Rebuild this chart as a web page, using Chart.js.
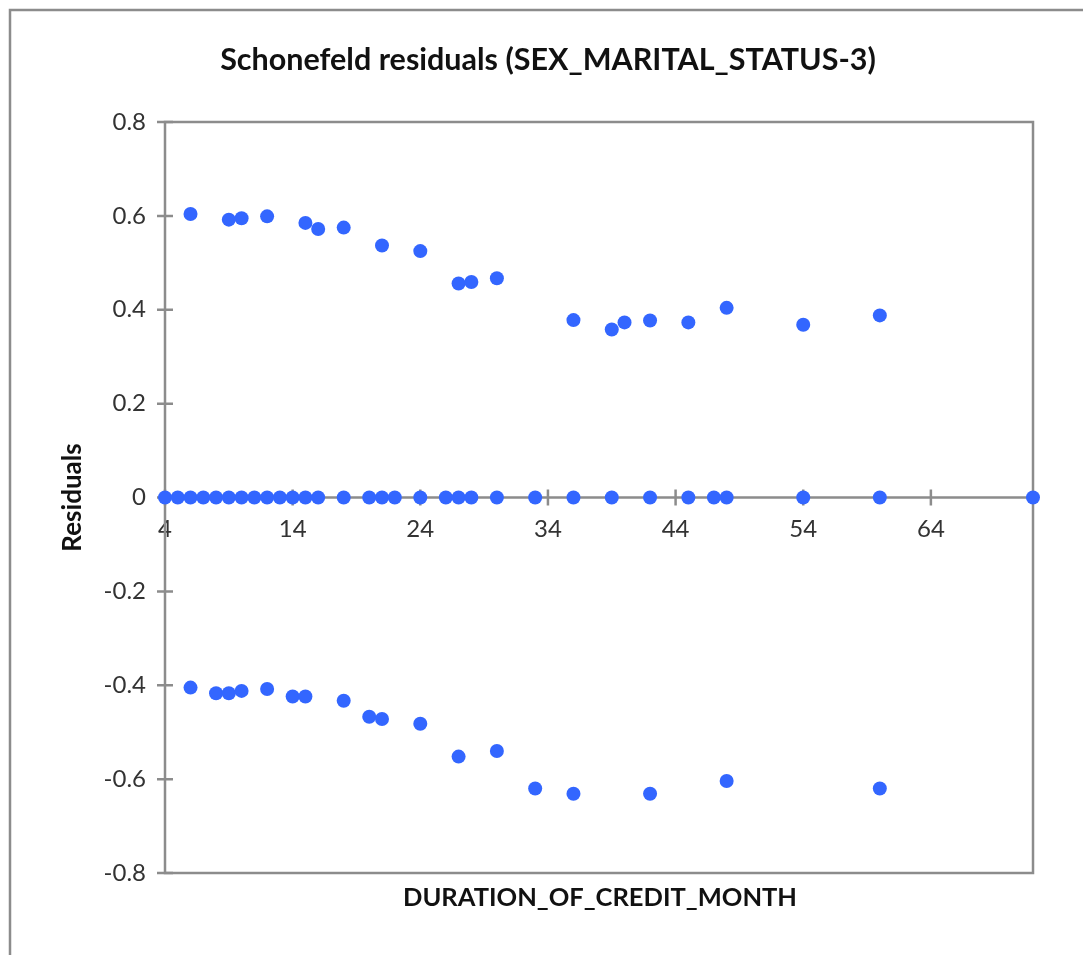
<!DOCTYPE html>
<html>
<head>
<meta charset="utf-8">
<title>Schonefeld residuals</title>
<script src="https://cdn.jsdelivr.net/npm/chart.js@4.4.1/dist/chart.umd.min.js"></script>
<style>
    html, body { margin: 0; padding: 0; background: #fff; }
    #wrap { width: 1083px; height: 955px; }
</style>
</head>
<body>
<div id="wrap"><canvas id="residualChart"></canvas></div>
<script>
// Residuals vs duration
const zeroX = [4, 5, 6, 7, 8, 9, 10, 11, 12, 13, 14, 15, 16, 18, 20, 21, 22, 24, 26, 27, 28, 30, 33, 36, 39, 42, 45, 47, 48, 54, 60, 72];
const zeroY = zeroX.map(() => 0);

const posX = [6, 9, 10, 12, 15, 16, 18, 21, 24, 27, 28, 30, 36, 39, 40, 42, 45, 48, 54, 60];
const posY = [0.604, 0.592, 0.595, 0.599, 0.585, 0.572, 0.575, 0.537, 0.525, 0.456, 0.459, 0.467, 0.378, 0.358, 0.373, 0.377, 0.373, 0.404, 0.368, 0.388];

const negX = [6, 8, 9, 10, 12, 14, 15, 18, 20, 21, 24, 27, 30, 33, 36, 42, 48, 60];
const negY = [-0.405, -0.417, -0.417, -0.412, -0.408, -0.424, -0.424, -0.433, -0.467, -0.472, -0.482, -0.552, -0.540, -0.620, -0.631, -0.631, -0.604, -0.620];

const xTicks = [4, 14, 24, 34, 44, 54, 64];
const yTicks = [-0.8, -0.6, -0.4, -0.2, 0, 0.2, 0.4, 0.6, 0.8];

const FONT = 'Lato, "Open Sans", sans-serif';
const AXIS_GRAY = '#8c8c8c';

function toPoints(xs, ys) {
    return xs.map((x, i) => ({ x: x, y: ys[i] }));
}

const allPoints = toPoints(zeroX, zeroY)
    .concat(toPoints(posX, posY))
    .concat(toPoints(negX, negY));

// Excel-like frame, plot border, cross tick marks and the two titles
const excelFrame = {
    id: 'excelFrame',
    beforeDraw(chart) {
        const c = chart.ctx;
        c.save();
        c.fillStyle = '#fff';
        c.fillRect(0, 0, chart.width, chart.height);
        c.strokeStyle = AXIS_GRAY;
        c.lineWidth = 2.5;
        c.beginPath();
        c.moveTo(10, chart.height);
        c.lineTo(10, 10);
        c.lineTo(chart.width, 10);
        c.stroke();
        c.restore();
    },
    beforeDatasetsDraw(chart) {
        const c = chart.ctx;
        const a = chart.chartArea;
        const xs = chart.scales.x;
        const ys = chart.scales.y;
        const y0 = ys.getPixelForValue(0);
        c.save();
        c.strokeStyle = AXIS_GRAY;
        c.lineWidth = 2.5;
        c.strokeRect(a.left, a.top, a.right - a.left, a.bottom - a.top);
        c.beginPath();
        c.moveTo(a.left, y0);
        c.lineTo(a.right, y0);
        yTicks.forEach(v => {
            const py = ys.getPixelForValue(v);
            c.moveTo(a.left - 8, py);
            c.lineTo(a.left + 8, py);
        });
        xTicks.forEach(v => {
            const px = xs.getPixelForValue(v);
            c.moveTo(px, y0 - 8);
            c.lineTo(px, y0 + 8);
        });
        c.stroke();
        c.restore();
    },
    afterDraw(chart) {
        const c = chart.ctx;
        c.save();
        c.fillStyle = '#111';
        c.textAlign = 'center';
        c.textBaseline = 'middle';
        c.font = 'bold 30.5px ' + FONT;
        c.fillText('Schonefeld residuals (SEX_MARITAL_STATUS-3)', 548, 60);
        c.font = 'bold 25.5px ' + FONT;
        c.fillText('DURATION_OF_CREDIT_MONTH', 600, 898);
        c.restore();
    }
};

new Chart(document.getElementById('residualChart'), {
    type: 'scatter',
    data: {
        datasets: [{
            label: 'Residuals',
            data: allPoints,
            backgroundColor: '#3366ff',
            borderColor: '#3366ff',
            pointRadius: 7,
            pointHoverRadius: 7,
            borderWidth: 0,
            clip: false
        }]
    },
    options: {
        responsive: true,
        maintainAspectRatio: false,
        animation: false,
        layout: {
            padding: { left: 0, right: 50, top: 122, bottom: 82 }
        },
        plugins: {
            legend: { display: false },
            tooltip: { enabled: false },
            title: { display: false }
        },
        scales: {
            x: {
                type: 'linear',
                position: { y: 0 },
                min: 4,
                max: 72,
                afterBuildTicks: (scale) => {
                    scale.ticks = xTicks.map(v => ({ value: v }));
                },
                border: { display: false },
                grid: { display: true, drawOnChartArea: false, color: 'rgba(0,0,0,0)', tickLength: 8 },
                ticks: {
                    color: '#333',
                    font: { family: FONT, size: 24 },
                    padding: 9,
                    maxRotation: 0
                }
            },
            y: {
                type: 'linear',
                position: 'left',
                min: -0.8,
                max: 0.8,
                afterBuildTicks: (scale) => {
                    scale.ticks = yTicks.map(v => ({ value: v }));
                },
                afterFit: (scale) => {
                    scale.width = 165;
                },
                border: { display: false },
                grid: { display: true, drawOnChartArea: false, color: 'rgba(0,0,0,0)', tickLength: 8 },
                ticks: {
                    color: '#333',
                    font: { family: FONT, size: 24 },
                    padding: 11,
                    callback: (v) => String(Math.round(v * 10) / 10)
                },
                title: {
                    display: true,
                    text: 'Residuals',
                    color: '#111',
                    font: { family: FONT, size: 26, weight: 'bold' },
                    padding: { top: 57, bottom: 0 }
                }
            }
        }
    },
    plugins: [excelFrame]
});
</script>
</body>
</html>
